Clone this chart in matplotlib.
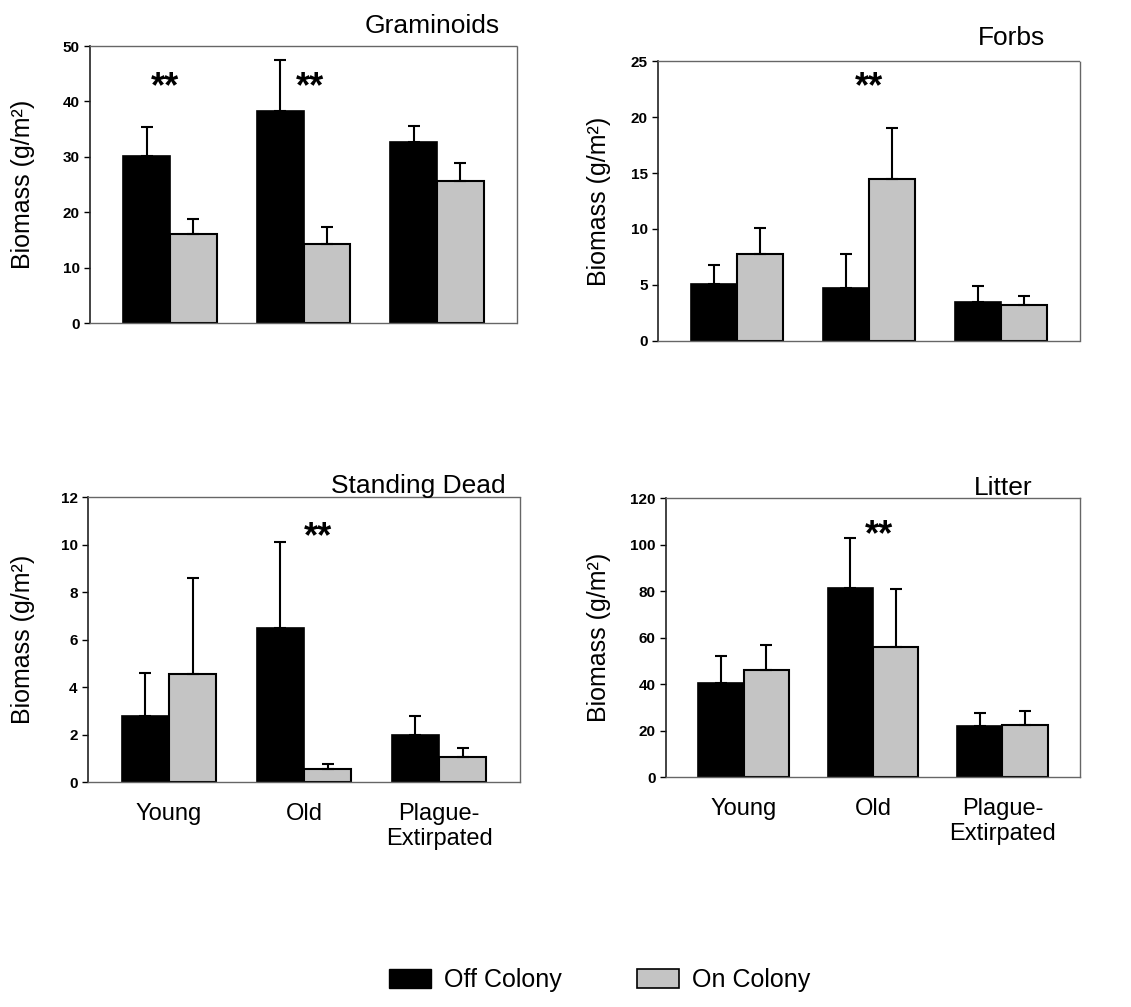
import numpy as np
import matplotlib
matplotlib.use("Agg")
import matplotlib.pyplot as plt
from matplotlib.patches import Patch

plt.rcParams['font.family'] = ['Liberation Sans', 'DejaVu Sans']

sites = ["Young", "Old", "Plague-\nExtirpated"]

# mean and upper error-bar tip for each panel, (off colony, on colony)
gram_off = [30.2, 38.3, 32.7]
gram_off_top = [35.3, 47.5, 35.5]
gram_on = [16.0, 14.2, 25.6]
gram_on_top = [18.8, 17.3, 28.8]

forb_off = [5.1, 4.7, 3.5]
forb_off_top = [6.8, 7.8, 4.9]
forb_on = [7.8, 14.5, 3.2]
forb_on_top = [10.1, 19.0, 4.0]

dead_off = [2.8, 6.5, 2.0]
dead_off_top = [4.6, 10.1, 2.8]
dead_on = [4.55, 0.55, 1.05]
dead_on_top = [8.6, 0.75, 1.45]

litt_off = [40.5, 81.5, 22.0]
litt_off_top = [52.0, 103.0, 27.5]
litt_on = [46.0, 56.0, 22.5]
litt_on_top = [57.0, 81.0, 28.5]

panels = [
    # title, off, off_top, on, on_top, ymax, ystep, stars(x, y)
    ("Graminoids", gram_off, gram_off_top, gram_on, gram_on_top, 50, 10, [(-0.04, 42.4), (1.05, 42.4)]),
    ("Forbs", forb_off, forb_off_top, forb_on, forb_on_top, 25, 5, [(1.0, 22.6)]),
    ("Standing Dead", dead_off, dead_off_top, dead_on, dead_on_top, 12, 2, [(1.1, 10.3)]),
    ("Litter", litt_off, litt_off_top, litt_on, litt_on_top, 120, 20, [(1.05, 104)]),
]

rects = [
    [0.0796, 0.6792, 0.3775, 0.2751],
    [0.5818, 0.6614, 0.3731, 0.2780],
    [0.0778, 0.2234, 0.3820, 0.2830],
    [0.5889, 0.2284, 0.3660, 0.2770],
]
title_pos = [(0.96, 1.047), (0.917, 1.057), (0.967, 1.014), (0.886, 1.011)]
ylab_x = [-0.129, -0.111, -0.123, -0.133]

GRAY = "#c4c4c4"
w = 0.35
x = np.arange(len(sites))

fig = plt.figure(figsize=(11.31, 10.07), dpi=100)

for i, (title, off, off_top, on, on_top, ymax, ystep, stars) in enumerate(panels):
    ax = fig.add_axes(rects[i])
    off_err = np.array(off_top) - np.array(off)
    on_err = np.array(on_top) - np.array(on)
    ax.bar(x - w / 2, off, w, color="black", edgecolor="black", linewidth=1.2)
    ax.bar(x + w / 2, on, w, color=GRAY, edgecolor="black", linewidth=1.5)
    ax.errorbar(x - w / 2, off, yerr=[np.zeros(3), off_err], fmt="none",
                ecolor="black", elinewidth=1.5, capsize=4, capthick=1.5)
    ax.errorbar(x + w / 2, on, yerr=[np.zeros(3), on_err], fmt="none",
                ecolor="black", elinewidth=1.5, capsize=4, capthick=1.5)
    for sx, sy in stars:
        ax.text(sx, sy, "**", ha="center", va="center", fontsize=26, fontweight="bold")

    ax.set_xlim(-0.6, 2.6)
    ax.set_ylim(0, ymax)
    ax.set_yticks(np.arange(0, ymax + 0.1, ystep))
    ax.tick_params(axis="y", labelsize=11, direction="out", length=4, width=1)
    for lab in ax.get_yticklabels():
        lab.set_fontweight("bold")
    ax.set_xticks(x)
    if i >= 2:
        ax.set_xticklabels(sites, fontsize=17, linespacing=1.2)
        ax.tick_params(axis="x", length=0, pad=15)
    else:
        ax.set_xticklabels([])
        ax.tick_params(axis="x", length=0)

    for side in ["top", "right", "bottom"]:
        ax.spines[side].set_linestyle((0, (1, 1)))
        ax.spines[side].set_color("#666666")
        ax.spines[side].set_linewidth(1)
    ax.spines["left"].set_color("#222222")
    ax.spines["left"].set_linewidth(1.2)

    ax.set_ylabel("Biomass (g/m²)", fontsize=18)
    ax.yaxis.set_label_coords(ylab_x[i], 0.5)
    tx, ty = title_pos[i]
    ax.text(tx, ty, title, transform=ax.transAxes, ha="right", va="baseline", fontsize=19)

handles = [Patch(facecolor="black", edgecolor="black"),
           Patch(facecolor=GRAY, edgecolor="black", linewidth=1.2)]
fig.legend(handles, ["Off Colony", "On Colony"], loc="center", bbox_to_anchor=(0.53, 0.027),
           ncol=2, frameon=False, fontsize=18, handlelength=1.7, handleheight=0.8,
           columnspacing=3.0, handletextpad=0.5)

fig.savefig("out.png", dpi=100)
